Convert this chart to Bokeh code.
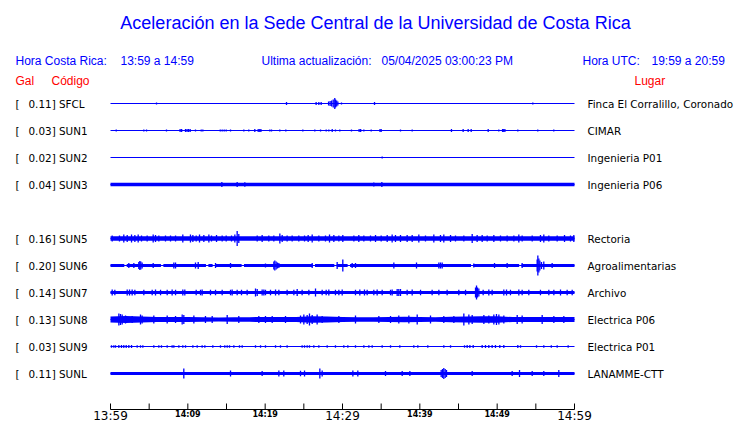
import numpy as np
from bokeh.plotting import figure
from bokeh.models import Range1d
from bokeh.core.properties import value
from bokeh.embed import file_html
from bokeh.resources import INLINE

# ---------------- data ----------------
title = "Aceleración en la Sede Central de la Universidad de Costa Rica"
hora_cr_label = "Hora Costa Rica:"
hora_cr = "13:59 a 14:59"
update_label = "Ultima actualización:"
update_time = "05/04/2025 03:00:23 PM"
hora_utc_label = "Hora UTC:"
hora_utc = "19:59 a 20:59"
col_gal = "Gal"
col_code = "Código"
col_place = "Lugar"

codes = ["SFCL", "SUN1", "SUN2", "SUN3", "SUN4", "SUN5", "SUN6", "SUN7", "SUN8", "SUN9", "SUNL"]
gal_max = [0.11, 0.03, 0.02, 0.04, None, 0.16, 0.20, 0.14, 0.13, 0.03, 0.11]
places = ["Finca El Corralillo, Coronado", "CIMAR", "Ingenieria P01", "Ingenieria P06", None,
          "Rectoria", "Agroalimentarias", "Archivo", "Electrica P06", "Electrica P01", "LANAMME-CTT"]
# half-width (Gal) of the continuous noise band, 0 = quiet trace
band_gal = [0, 0, 0, 0.036, None, 0.046, 0.032, 0.03, None, 0, 0.032]

# minutes since 13:59
tick_minutes = [0, 5, 10, 15, 20, 25, 30, 35, 40, 45, 50, 55, 60]
label_minutes = [0, 10, 20, 30, 40, 50, 60]
tick_labels = ["13:59", "14:09", "14:19", "14:29", "14:39", "14:49", "14:59"]
major_labels = ["13:59", "14:29", "14:59"]

# ---- spikes (minute, half amplitude in Gal) ----
sfcl_t = [5.95, 22.76, 26.59, 26.94, 27.24, 28.2, 28.4, 28.6, 28.8, 29.0, 29.1, 29.25, 29.4, 29.87, 34.14, 54.61]
sfcl_a = [0.02, 0.03, 0.03, 0.03, 0.03, 0.04, 0.05, 0.06, 0.08, 0.11, 0.08, 0.06, 0.04, 0.02, 0.03, 0.02]

sun1_t = [0.74, 4.31, 4.66, 7.24, 9.0, 9.2, 9.7, 9.9, 10.1, 10.3, 10.99, 11.73, 11.94, 14.19, 14.44, 14.7,
          14.96, 15.52, 17.24, 17.88, 18.66, 19.1, 19.3, 19.45, 20.6, 20.82, 21.89, 22.67, 24.87, 26.42,
          27.16, 27.89, 28.23, 28.67, 29.09, 29.65, 31.16, 32.15, 32.35, 32.76, 33.71, 34.85, 35.0, 37.5,
          39.01, 44.09, 45.6, 46.25, 46.64, 48.84, 50.21, 50.7, 50.85, 51.0, 52.67, 55.25, 57.32]
sun1_a = [0.02, 0.02, 0.02, 0.02, 0.03, 0.03, 0.03, 0.03, 0.03, 0.03, 0.02, 0.02, 0.02, 0.02, 0.02, 0.02,
          0.02, 0.02, 0.02, 0.02, 0.03, 0.03, 0.03, 0.03, 0.02, 0.02, 0.02, 0.02, 0.02, 0.02,
          0.02, 0.02, 0.02, 0.03, 0.02, 0.02, 0.02, 0.03, 0.03, 0.02, 0.02, 0.03, 0.03, 0.02,
          0.02, 0.03, 0.03, 0.03, 0.03, 0.03, 0.02, 0.03, 0.03, 0.03, 0.02, 0.02, 0.02]

sun2_t = [35.13]
sun2_a = [0.02]

sun3_t = [14.4, 16.38, 17.37, 34.05, 35.09]
sun3_a = [0.05, 0.05, 0.045, 0.04, 0.05]

sun5_t = [0.22, 1.16, 1.72, 2.16, 2.72, 3.15, 3.58, 4.01, 4.74, 5.52, 5.82, 6.25, 7.11, 7.76, 8.41, 9.35,
          10.34, 10.65, 11.08, 11.51, 12.07, 12.72, 13.06, 13.71, 14.44, 14.96, 15.65, 16.08, 16.38, 16.59,
          18.97, 19.61, 20.47, 21.12, 21.9, 22.2, 22.84, 23.49, 24.35, 25.09, 25.56, 26.08, 26.94, 27.8,
          28.32, 28.88, 29.53, 30.04, 31.47, 32.11, 32.76, 33.62, 34.27, 35.0, 35.78, 36.42, 36.85, 37.5,
          38.36, 39.01, 39.87, 40.73, 41.81, 42.67, 43.1, 43.97, 44.61, 45.69, 46.77, 47.41, 48.06, 48.71,
          49.57, 50.43, 51.29, 52.16, 52.8, 53.23, 54.53, 55.6, 56.03, 56.68, 57.76, 58.71, 59.48, 59.91]
sun5_a = [0.06, 0.06, 0.08, 0.07, 0.08, 0.07, 0.08, 0.06, 0.06, 0.08, 0.07, 0.06, 0.06, 0.06, 0.06, 0.08,
          0.08, 0.07, 0.06, 0.08, 0.07, 0.08, 0.06, 0.07, 0.06, 0.06, 0.06, 0.08, 0.15, 0.09,
          0.06, 0.07, 0.06, 0.06, 0.10, 0.07, 0.06, 0.06, 0.06, 0.06, 0.07, 0.08, 0.06, 0.06,
          0.08, 0.07, 0.06, 0.07, 0.06, 0.07, 0.06, 0.06, 0.07, 0.06, 0.07, 0.08, 0.07, 0.07,
          0.07, 0.07, 0.08, 0.06, 0.08, 0.07, 0.08, 0.07, 0.06, 0.06, 0.09, 0.07, 0.07, 0.06,
          0.07, 0.06, 0.06, 0.06, 0.08, 0.06, 0.06, 0.07, 0.08, 0.06, 0.06, 0.07, 0.06, 0.07]

sun6_t = [2.37, 3.02, 3.66, 3.79, 3.92, 4.09, 5.52, 8.19, 8.41, 10.99, 11.34, 13.58, 15.52, 20.04, 21.12,
          21.25, 21.42, 21.59, 21.77, 26.08, 29.31, 30.04, 31.25, 31.68, 36.64, 39.57, 42.46, 42.67, 42.89,
          46.98, 49.66, 51.29, 53.23, 55.17, 55.26, 55.39, 55.52, 55.73, 56.03, 57.11]
sun6_a = [0.05, 0.05, 0.07, 0.09, 0.08, 0.06, 0.05, 0.06, 0.06, 0.06, 0.07, 0.05, 0.05, 0.04, 0.08,
          0.10, 0.08, 0.06, 0.05, 0.05, 0.07, 0.12, 0.05, 0.05, 0.06, 0.06, 0.06, 0.06, 0.06,
          0.04, 0.05, 0.05, 0.05, 0.12, 0.20, 0.14, 0.10, 0.07, 0.08, 0.05]
sun6_gaps = [1.94, 6.68, 12.5, 13.36, 17.11, 26.29, 29.1, 30.82, 46.77, 53.0]

sun7_t = [0.22, 0.56, 2.16, 2.46, 2.8, 3.15, 4.31, 5.39, 5.82, 6.47, 7.33, 7.97, 8.41, 9.35, 9.61, 11.08,
          11.64, 11.85, 12.93, 13.58, 14.44, 15.52, 15.73, 16.38, 16.94, 17.67, 18.75, 18.97, 19.61, 19.83,
          20.04, 20.69, 21.34, 21.77, 22.84, 23.71, 24.14, 24.78, 25.65, 26.51, 27.37, 27.89, 28.23, 29.09,
          29.53, 29.96, 31.68, 32.24, 32.84, 33.19, 34.05, 34.48, 35.13, 36.21, 36.42, 37.07, 37.28, 37.5,
          38.36, 39.01, 40.09, 41.59, 42.46, 43.53, 45.04, 45.91, 47.2, 47.33, 47.46, 47.63, 48.19, 48.92,
          49.35, 50.86, 51.21, 51.72, 52.8, 53.23, 54.09, 55.6, 56.68, 57.33, 58.19, 59.05, 59.7]
sun7_a = [0.06, 0.055, 0.06, 0.06, 0.06, 0.055, 0.055, 0.055, 0.06, 0.055, 0.055, 0.06, 0.055, 0.06, 0.06, 0.055,
          0.055, 0.06, 0.055, 0.055, 0.055, 0.055, 0.06, 0.055, 0.055, 0.055, 0.08, 0.07, 0.06, 0.06,
          0.055, 0.055, 0.06, 0.055, 0.055, 0.055, 0.07, 0.055, 0.055, 0.08, 0.055, 0.055, 0.06, 0.055,
          0.055, 0.06, 0.055, 0.06, 0.06, 0.055, 0.055, 0.06, 0.055, 0.055, 0.06, 0.07, 0.07, 0.07,
          0.055, 0.06, 0.055, 0.055, 0.055, 0.055, 0.055, 0.055, 0.10, 0.14, 0.10, 0.08, 0.055, 0.06,
          0.055, 0.06, 0.06, 0.055, 0.06, 0.055, 0.055, 0.055, 0.055, 0.055, 0.06, 0.055, 0.055]

sun8_env_t = [0, 2, 4, 6, 8, 10, 12, 14, 16, 18, 20, 22, 24, 26, 28, 30,
              32, 34, 36, 38, 40, 42, 44, 46, 48, 50, 52, 54, 56, 58, 60]
sun8_env_a = [0.06, 0.07, 0.06, 0.05, 0.05, 0.05, 0.047, 0.04, 0.043, 0.047, 0.05, 0.05, 0.05, 0.064, 0.06, 0.05,
              0.047, 0.043, 0.05, 0.055, 0.05, 0.047, 0.055, 0.06, 0.064, 0.064, 0.05, 0.05, 0.05, 0.05, 0.05]
sun8_t = [1.08, 1.29, 1.51, 1.94, 2.8, 3.88, 4.09, 5.6, 7.33, 8.41, 9.27, 9.48, 10.78, 12.28, 13.15, 15.09,
          16.59, 19.18, 20.04, 20.91, 22.63, 24.57, 25.0, 25.43, 25.73, 26.08, 26.72, 27.37, 29.53, 31.68,
          34.7, 36.21, 37.28, 38.58, 39.66, 41.38, 43.1, 44.4, 45.69, 46.34, 46.77, 48.28, 48.92, 49.57,
          49.91, 50.22, 50.86, 52.59, 53.23, 55.82, 57.33, 58.62]
sun8_a = [0.12, 0.11, 0.10, 0.08, 0.07, 0.10, 0.08, 0.08, 0.08, 0.07, 0.10, 0.09, 0.08, 0.07, 0.07, 0.09,
          0.07, 0.07, 0.07, 0.07, 0.07, 0.08, 0.10, 0.09, 0.12, 0.09, 0.10, 0.07, 0.07, 0.08,
          0.07, 0.07, 0.08, 0.08, 0.10, 0.08, 0.07, 0.07, 0.12, 0.10, 0.09, 0.09, 0.08, 0.10,
          0.11, 0.10, 0.08, 0.09, 0.08, 0.09, 0.07, 0.07]

sun9_t = [0.13, 0.43, 0.65, 1.08, 1.42, 1.72, 2.03, 2.37, 2.72, 3.45, 3.88, 4.18, 5.6, 6.25, 6.59, 7.33,
          7.97, 8.19, 8.84, 9.35, 9.7, 10.65, 11.21, 11.85, 12.2, 13.23, 14.22, 14.78, 15.09, 15.39, 15.95,
          16.68, 17.03, 18.75, 19.4, 20.04, 21.34, 21.98, 22.84, 24.78, 25.09, 25.43, 25.73, 26.29, 26.94,
          28.02, 29.09, 30.17, 30.69, 31.68, 32.76, 33.41, 33.84, 35.13, 36.21, 37.41, 39.22, 39.74, 41.03,
          43.1, 43.97, 45.78, 46.12, 46.47, 46.9, 48.06, 48.49, 48.92, 49.35, 49.78, 50.34, 50.86, 52.67,
          53.02, 55.09, 56.03, 57.0, 57.76, 59.18]
sun9_a = [0.025] * 3 + [0.03] * 6 + [0.025] * 3 + [0.025] * 38 + [0.025] * 12 + [0.03] * 11 + [0.025] * 6

sunl_t = [9.48, 15.52, 19.61, 21.77, 22.41, 24.57, 25.09, 27.07, 27.37, 31.34, 31.98, 35.56, 37.72, 38.71,
          42.76, 42.93, 43.1, 43.28, 43.45, 46.77, 51.94, 52.89, 54.53, 56.03, 57.97]
sunl_a = [0.10, 0.06, 0.05, 0.06, 0.06, 0.055, 0.06, 0.10, 0.06, 0.06, 0.06, 0.05, 0.05, 0.05,
          0.07, 0.09, 0.11, 0.09, 0.07, 0.05, 0.05, 0.07, 0.05, 0.05, 0.07]

spike_t = [sfcl_t, sun1_t, sun2_t, sun3_t, None, sun5_t, sun6_t, sun7_t, sun8_t, sun9_t, sunl_t]
spike_a = [sfcl_a, sun1_a, sun2_a, sun3_a, None, sun5_a, sun6_a, sun7_a, sun8_a, sun9_a, sunl_a]
gaps = [[], [], [], [], None, [], sun6_gaps, [], [], [], []]

# ---------------- layout helpers ----------------
W, H = 740, 423
PX_PER_MIN = 464 / 60.0
ROW_PX = 27.0
GAL_PX = 50.0
K = GAL_PX / ROW_PX          # Gal -> row units


def tx(px):   # reference pixel column -> minutes
    return (px - 110) / PX_PER_MIN


def ty(py):   # reference pixel row -> row units
    return (py - 103) / ROW_PX


BLUE = "#0000FF"
RED = "#FF0000"

p = figure(width=W, height=H, output_backend="svg", toolbar_location=None,
           x_range=Range1d(tx(0), tx(W)), y_range=Range1d(ty(H), ty(0)),
           x_axis_type=None, y_axis_type=None, min_border=0)
p.outline_line_color = None
p.xgrid.visible = False
p.ygrid.visible = False
p.background_fill_color = "white"

# header texts
p.text(x=[tx(375)], y=[ty(22)], text=[title], text_color=BLUE, text_align="center",
       text_baseline="middle", text_font=value("Liberation Sans"), text_font_size=value("18px"))
hx = [tx(15), tx(120), tx(261), tx(381), tx(582), tx(651)]
htxt = [hora_cr_label, hora_cr, update_label, update_time, hora_utc_label, hora_utc]
p.text(x=hx, y=[ty(60)] * 6, text=htxt, text_color=BLUE, text_baseline="middle",
       text_font=value("Liberation Sans"), text_font_size=value("12px"))
p.text(x=[tx(15), tx(51), tx(634)], y=[ty(80)] * 3, text=[col_gal, col_code, col_place],
       text_color=RED, text_baseline="middle", text_font=value("Liberation Sans"),
       text_font_size=value("12px"))

t_start, t_end = tick_minutes[0], tick_minutes[-1]

for i, code in enumerate(codes):
    if gal_max[i] is None:
        continue
    row = float(i)
    # labels
    p.text(x=[tx(15)], y=[row], text=["["], text_color="black", text_baseline="middle",
           text_font=value("DejaVu Sans"), text_font_size=value("10.4px"))
    p.text(x=[tx(28)], y=[row], text=[f"{gal_max[i]:.2f}] {code}"], text_color="black",
           text_baseline="middle", text_font=value("DejaVu Sans"), text_font_size=value("10.4px"))
    p.text(x=[tx(587)], y=[row], text=[places[i]], text_color="black", text_baseline="middle",
           text_font=value("DejaVu Sans"), text_font_size=value("10.4px"))

    # baseline
    p.line(x=[t_start, t_end], y=[row, row], line_color=BLUE, line_width=1)

    # noise band
    if code == "SUN8":
        et = np.array(sun8_env_t, float)
        ea = np.array(sun8_env_a, float)
        p.varea(x=et, y1=row - ea * K, y2=row + ea * K, fill_color=BLUE)
    elif band_gal[i]:
        b = band_gal[i]
        et, ea = [t_start], [b]
        for g in sorted(gaps[i]):
            et += [g - 0.16, g - 0.15, g + 0.15, g + 0.16]
            ea += [b, 0.006, 0.006, b]
        et.append(t_end)
        ea.append(b)
        et = np.array(et)
        ea = np.array(ea)
        p.varea(x=et, y1=row - ea * K, y2=row + ea * K, fill_color=BLUE)

    # spikes
    st = np.array(spike_t[i], float)
    sa = np.array(spike_a[i], float)
    p.segment(x0=st, y0=row - sa * K, x1=st, y1=row + sa * K, line_color=BLUE, line_width=1.3)

# time axis
ax_y = ty(409)
p.line(x=[t_start, t_end], y=[ax_y, ax_y], line_color="black", line_width=1)
tm = np.array(tick_minutes, float)
p.segment(x0=tm, y0=[ax_y] * len(tm), x1=tm, y1=[ty(403)] * len(tm), line_color="black", line_width=1)
big = [m for m, l in zip(label_minutes, tick_labels) if l in major_labels]
big_l = [l for l in tick_labels if l in major_labels]
small = [m for m, l in zip(label_minutes, tick_labels) if l not in major_labels]
small_l = [l for l in tick_labels if l not in major_labels]
p.text(x=big, y=[ty(415)] * len(big), text=big_l, text_color="black", text_align="center",
       text_baseline="middle", text_font=value("DejaVu Sans"), text_font_size=value("12px"))
p.text(x=small, y=[ty(413.5)] * len(small), text=small_l, text_color="black", text_align="center",
       text_baseline="middle", text_font=value("DejaVu Sans"), text_font_size=value("8px"),
       text_font_style="bold")

open("out.html", "w").write(file_html(p, INLINE))
